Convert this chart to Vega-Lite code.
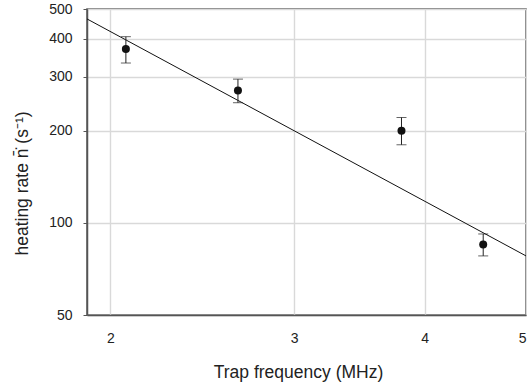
{
  "$schema": "https://vega.github.io/schema/vega-lite/v6.json",
  "width": 439,
  "height": 306,
  "autosize": {"type": "none"},
  "padding": {"left": 87, "top": 9, "right": 1, "bottom": 70},
  "config": {
    "font": "Liberation Sans",
    "view": {"stroke": "#555555", "strokeWidth": 1.5},
    "axis": {
      "labelFont": "Liberation Sans",
      "titleFont": "Liberation Sans",
      "labelFontSize": 14,
      "titleFontSize": 17.5,
      "titleFontWeight": "normal",
      "labelColor": "#222222",
      "titleColor": "#222222",
      "gridColor": "#d9d9d9",
      "gridWidth": 1.4,
      "domainColor": "#555555",
      "domainWidth": 1.5,
      "tickColor": "#555555"
    }
  },
  "datasets": {
    "pts": [
      {"freq": 2.07, "rate": 370, "lo": 333, "hi": 406},
      {"freq": 2.65, "rate": 271, "lo": 247, "hi": 295},
      {"freq": 3.80, "rate": 200, "lo": 180, "hi": 221},
      {"freq": 4.55, "rate": 85, "lo": 78, "hi": 92}
    ],
    "fit": [
      {"freq": 1.9, "rate": 464},
      {"freq": 5.0, "rate": 78}
    ]
  },
  "layer": [
    {
      "data": {"name": "fit"},
      "mark": {"type": "line", "color": "#111111", "strokeWidth": 1, "clip": true},
      "encoding": {
        "x": {
          "field": "freq", "type": "quantitative",
          "scale": {"type": "log", "domain": [1.9, 5], "nice": false},
          "axis": {
            "values": [2, 3, 4, 5], "title": "Trap frequency (MHz)",
            "ticks": false, "labelPadding": 16,
            "titleX": 211, "titleY": 62, "titleBaseline": "alphabetic", "titleAlign": "center",
            "grid": true, "format": "d"
          }
        },
        "y": {
          "field": "rate", "type": "quantitative",
          "scale": {"type": "log", "domain": [50, 500], "nice": false},
          "axis": {
            "values": [50, 100, 200, 300, 400, 500],
            "title": "heating rate  n\u0304\u0307 (s\u207B\u00B9)",
            "tickSize": 4, "labelPadding": 11,
            "titleX": -60, "titleY": 174, "titleBaseline": "alphabetic", "titleAlign": "center", "titleAngle": -90,
            "grid": true, "format": "d"
          }
        }
      }
    },
    {
      "data": {"name": "pts"},
      "mark": {"type": "rule", "color": "#222222", "strokeWidth": 1},
      "encoding": {
        "x": {"field": "freq", "type": "quantitative"},
        "y": {"field": "lo", "type": "quantitative"},
        "y2": {"field": "hi"}
      }
    },
    {
      "data": {"name": "pts"},
      "mark": {"type": "tick", "orient": "horizontal", "size": 10, "thickness": 1, "color": "#222222"},
      "encoding": {
        "x": {"field": "freq", "type": "quantitative"},
        "y": {"field": "lo", "type": "quantitative"}
      }
    },
    {
      "data": {"name": "pts"},
      "mark": {"type": "tick", "orient": "horizontal", "size": 10, "thickness": 1, "color": "#222222"},
      "encoding": {
        "x": {"field": "freq", "type": "quantitative"},
        "y": {"field": "hi", "type": "quantitative"}
      }
    },
    {
      "data": {"name": "pts"},
      "mark": {"type": "point", "filled": true, "shape": "circle", "size": 64, "color": "#111111", "opacity": 1},
      "encoding": {
        "x": {"field": "freq", "type": "quantitative"},
        "y": {"field": "rate", "type": "quantitative"}
      }
    }
  ]
}
